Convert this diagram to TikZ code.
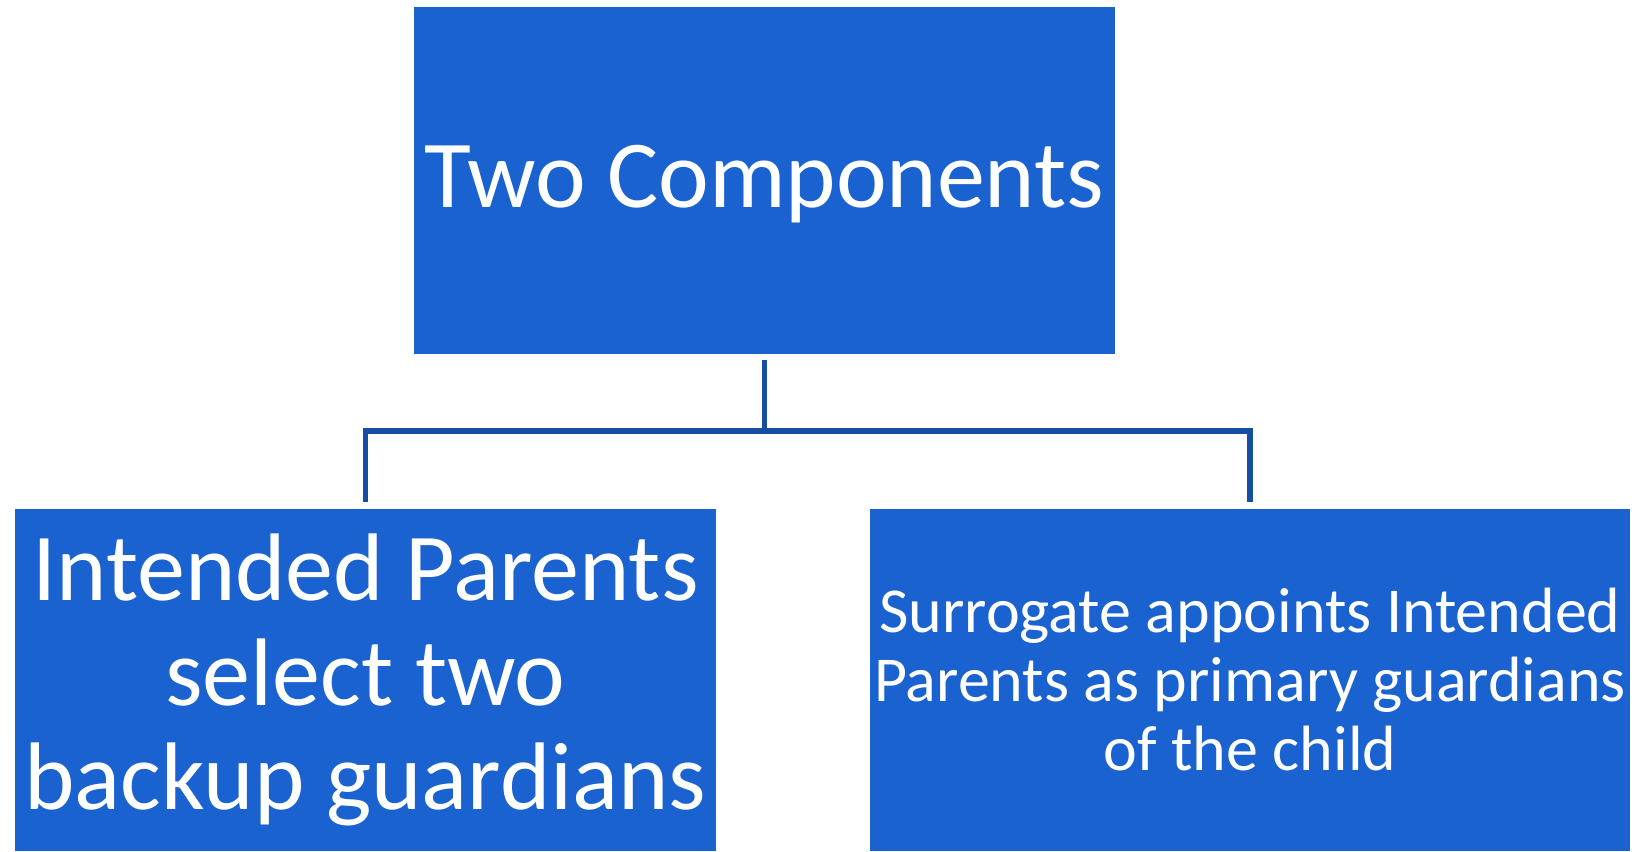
\documentclass[tikz,border=0pt]{standalone}
\usepackage{fontspec}
\setmainfont{Carlito}
\definecolor{boxblue}{RGB}{25,98,208}
\definecolor{lineblue}{RGB}{22,78,160}
\tikzset{
  compbox/.style={fill=boxblue, text=white, inner sep=0pt, align=center},
  link/.style={draw=lineblue, line width=5.5pt}
}
\begin{document}
\begin{tikzpicture}[x=1pt,y=1pt,yscale=-1,xscale=1]
	\useasboundingbox (0,0) rectangle (1635,851);

	%Shape: Rectangle
	\node [compbox, minimum width=701pt, minimum height=347pt, text height=62pt, text depth=9pt, font=\fontsize{96}{104.5}\selectfont] (top) at (764.5,180.5) {Two Components};
	%Shape: Rectangle
	\node [compbox, minimum width=701pt, minimum height=342pt, font=\fontsize{96}{104.5}\selectfont] (left) at (365.5,680) {Intended Parents\\select two\\backup guardians};
	%Shape: Rectangle
	\node [compbox, minimum width=760pt, minimum height=342pt, font=\fontsize{64}{69}\selectfont] (right) at (1250,680) {Surrogate appoints Intended\\Parents as primary guardians\\of the child};

	%Straight Lines
	\coordinate (fork) at (764.5,431);
	\draw [link] ([yshift=6pt]top.south) -- (fork);
	\draw [link] ([yshift=-7pt]left.north) |- (fork) -| ([yshift=-7pt]right.north);

\end{tikzpicture}
\end{document}
